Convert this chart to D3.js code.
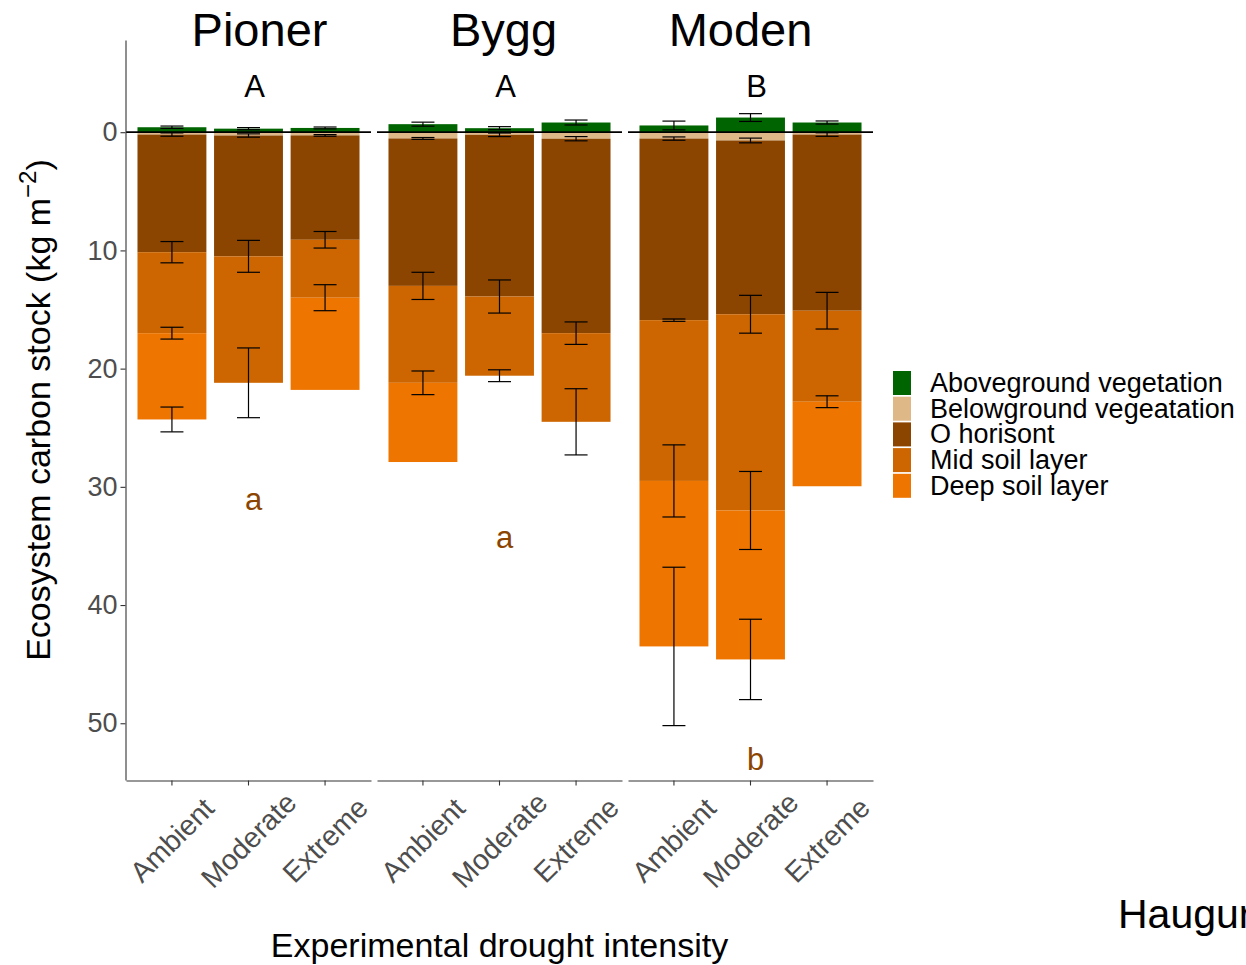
<!DOCTYPE html>
<html>
<head>
<meta charset="utf-8">
<script src="https://cdn.jsdelivr.net/npm/d3@7"></script>
<style>
  html, body { margin: 0; padding: 0; background: #fff; overflow: hidden; }
  svg { display: block; font-family: "Liberation Sans", Arial, sans-serif; }
</style>
</head>
<body>
<svg id="chart" width="1246" height="965"></svg>
<script>
// ---------------- DATA ----------------
const panels = ["Pioner", "Bygg", "Moden"];
const treatments = ["Ambient", "Moderate", "Extreme"];
const layerNames = ["Aboveground vegetation", "Belowground vegeatation", "O horisont", "Mid soil layer", "Deep soil layer"];

// values per (panel, treatment): Pioner A/M/E, Bygg A/M/E, Moden A/M/E  (kg m-2)
const aboveground   = [0.42, 0.30, 0.36,  0.68, 0.34, 0.82,  0.57, 1.24, 0.82];
const abovegroundSE = [0.10, 0.09, 0.08,  0.17, 0.13, 0.21,  0.37, 0.33, 0.13];
const belowground   = [0.20, 0.28, 0.27,  0.53, 0.22, 0.55,  0.54, 0.70, 0.20];
const belowgroundSE = [0.14, 0.14, 0.07,  0.08, 0.15, 0.18,  0.14, 0.20, 0.15];
const oHorizon      = [9.95, 10.22, 8.83, 12.47, 13.68, 16.45, 15.36, 14.70, 14.90];
const oHorizonSE    = [0.90, 1.35, 0.70,  1.15, 1.40, 0.95,  0.10, 1.60, 1.55];
const midSoil       = [6.85, 10.70, 4.90, 8.20, 6.70, 7.50,  13.60, 16.60, 7.70];
const midSoilSE     = [0.50, 2.95, 1.10,  1.00, 0.50, 2.80,  3.05, 3.30, 0.50];
const deepSoil      = [7.30, 0, 7.80,     6.70, 0, 0,        14.00, 12.60, 7.15];
const deepSoilSE    = [1.05, null, null,  null, null, null,  6.70, 3.40, null];

const yTicks = [0, 10, 20, 30, 40, 50];
const panelLetters = ["A", "A", "B"];
const soilLetters = ["a", "a", "b"];
const soilLetterValues = [31.1, 34.3, 53.1];
const sideLabel = "Haugur";

// ---------------- STYLE / LAYOUT ----------------
const layerColors = ["#006400", "#DEB887", "#8B4500", "#CD6600", "#EE7600"];
const W = 1246, H = 965;
const panelX0 = 126, panelW = 245, panelGap = 6;
const plotTop = 40, plotBottom = 780;
const titleOffsets = [11, 4, -10];

const svg = d3.select("#chart");
svg.append("rect").attr("width", W).attr("height", H).attr("fill", "#fff");

const y = d3.scaleLinear().domain([-7.8, 54.8]).range([plotTop, plotBottom]);

// Build records
const records = [];
panels.forEach((p, pi) => treatments.forEach((t, ti) => {
  const k = pi * 3 + ti;
  records.push({
    panel: p, pi, treatment: t,
    above: aboveground[k], aboveSE: abovegroundSE[k],
    below: belowground[k], o: oHorizon[k], mid: midSoil[k], deep: deepSoil[k],
    se: { below: belowgroundSE[k], o: oHorizonSE[k], mid: midSoilSE[k], deep: deepSoilSE[k] }
  });
}));

const stackKeys = ["below", "o", "mid", "deep"];
const stacked = d3.stack().keys(stackKeys)(records);

const xScales = panels.map((p, i) => {
  const x0 = panelX0 + i * (panelW + panelGap);
  return d3.scaleBand().domain(treatments).range([x0, x0 + panelW]).paddingInner(0.1).paddingOuter(0.15);
});

const gBars = svg.append("g");
// aboveground bars (drawn upward)
gBars.selectAll("rect.above").data(records).join("rect")
  .attr("class", "above")
  .attr("x", d => xScales[d.pi](d.treatment))
  .attr("width", d => xScales[d.pi].bandwidth())
  .attr("y", d => y(-d.above))
  .attr("height", d => y(0) - y(-d.above))
  .attr("fill", layerColors[0]);

// stacked belowground layers
stacked.forEach((series, si) => {
  gBars.selectAll("rect.s" + si).data(series).join("rect")
    .attr("class", "s" + si)
    .attr("x", d => xScales[d.data.pi](d.data.treatment))
    .attr("width", d => xScales[d.data.pi].bandwidth())
    .attr("y", d => y(d[0]))
    .attr("height", d => Math.max(0, y(d[1]) - y(d[0])))
    .attr("fill", layerColors[si + 1]);
});

// zero line per panel
panels.forEach((p, i) => {
  const r = xScales[i].range();
  svg.append("line")
    .attr("x1", r[0]).attr("x2", r[1])
    .attr("y1", y(0)).attr("y2", y(0))
    .attr("stroke", "#000").attr("stroke-width", 1.8);
});

// error bars
const errs = [];
records.forEach(d => {
  errs.push({ pi: d.pi, t: d.treatment, c: -d.above, se: d.aboveSE });
});
stacked.forEach((series, si) => {
  series.forEach(d => {
    const se = d.data.se[stackKeys[si]];
    if (se != null && d[1] > d[0]) errs.push({ pi: d.data.pi, t: d.data.treatment, c: d[1], se });
  });
});
const capW = 23;
const gErr = svg.append("g").attr("stroke", "#000").attr("stroke-width", 1.2);
errs.forEach(e => {
  const cx = xScales[e.pi](e.t) + xScales[e.pi].bandwidth() / 2;
  const y1 = y(e.c - e.se), y2 = y(e.c + e.se);
  gErr.append("line").attr("x1", cx).attr("x2", cx).attr("y1", y1).attr("y2", y2);
  gErr.append("line").attr("x1", cx - capW / 2).attr("x2", cx + capW / 2).attr("y1", y1).attr("y2", y1);
  gErr.append("line").attr("x1", cx - capW / 2).attr("x2", cx + capW / 2).attr("y1", y2).attr("y2", y2);
});

// Y axis
const yAxis = svg.append("g").attr("transform", "translate(125.5,0)")
  .call(d3.axisLeft(y).tickValues(yTicks).tickSize(5).tickSizeOuter(0).tickPadding(3));
yAxis.select(".domain").attr("stroke", "#333").attr("stroke-width", 1.1);
yAxis.selectAll(".tick line").attr("stroke", "#333").attr("stroke-width", 1.1);
yAxis.selectAll(".tick text").attr("font-size", 27).attr("fill", "#4D4D4D")
  .attr("font-family", "Liberation Sans, Arial, sans-serif");

// X axes per panel
xScales.forEach((xs, i) => {
  const g = svg.append("g").attr("transform", `translate(0,${plotBottom + 0.5})`)
    .call(d3.axisBottom(xs).tickSize(5).tickSizeOuter(0));
  g.select(".domain").attr("stroke", "#333").attr("stroke-width", 1.1);
  g.selectAll(".tick line").attr("stroke", "#333").attr("stroke-width", 1.1);
  g.selectAll(".tick text").remove();
  treatments.forEach(t => {
    const cx = xs(t) + xs.bandwidth() / 2;
    svg.append("text")
      .attr("transform", `translate(${cx},840) rotate(-45)`)
      .attr("text-anchor", "middle").attr("dominant-baseline", "central")
      .attr("font-size", 28.5).attr("fill", "#4D4D4D")
      .text(t);
  });
  // panel titles
  const r = xs.range();
  svg.append("text")
    .attr("x", (r[0] + r[1]) / 2 + titleOffsets[i]).attr("y", 46)
    .attr("text-anchor", "middle").attr("font-size", 47).attr("fill", "#000")
    .text(panels[i]);
  // significance letters
  const mx = xs("Moderate") + xs.bandwidth() / 2 + 6;
  svg.append("text").attr("x", mx).attr("y", y(-3.9))
    .attr("text-anchor", "middle").attr("dominant-baseline", "central")
    .attr("font-size", 31).attr("fill", "#000").text(panelLetters[i]);
  svg.append("text").attr("x", mx - 1).attr("y", y(soilLetterValues[i]))
    .attr("text-anchor", "middle").attr("dominant-baseline", "central")
    .attr("font-size", 31).attr("fill", "#8B4500").text(soilLetters[i]);
});

// Axis titles
svg.append("text").attr("x", 499.5).attr("y", 957)
  .attr("text-anchor", "middle").attr("font-size", 34).attr("fill", "#000")
  .text("Experimental drought intensity");
const yt = svg.append("text")
  .attr("transform", `translate(50,410) rotate(-90)`)
  .attr("text-anchor", "middle").attr("font-size", 34).attr("fill", "#000");
yt.append("tspan").text("Ecosystem carbon stock (kg m");
yt.append("tspan").attr("font-size", 24).attr("dy", -14).text("\u22122");
yt.append("tspan").attr("dy", 14).text(")");

// Legend
const legend = svg.append("g").attr("transform", "translate(893,371)");
layerNames.forEach((n, i) => {
  legend.append("rect").attr("x", 0).attr("y", i * 25.7).attr("width", 18).attr("height", 24)
    .attr("fill", layerColors[i]);
  legend.append("text").attr("x", 37).attr("y", i * 25.7 + 12)
    .attr("dominant-baseline", "central").attr("font-size", 27).attr("fill", "#000").text(n);
});

// Side label (clipped at right edge, as in the reference)
svg.append("text").attr("x", 1118).attr("y", 928).attr("font-size", 41).attr("fill", "#000").text(sideLabel);
</script>
</body>
</html>
